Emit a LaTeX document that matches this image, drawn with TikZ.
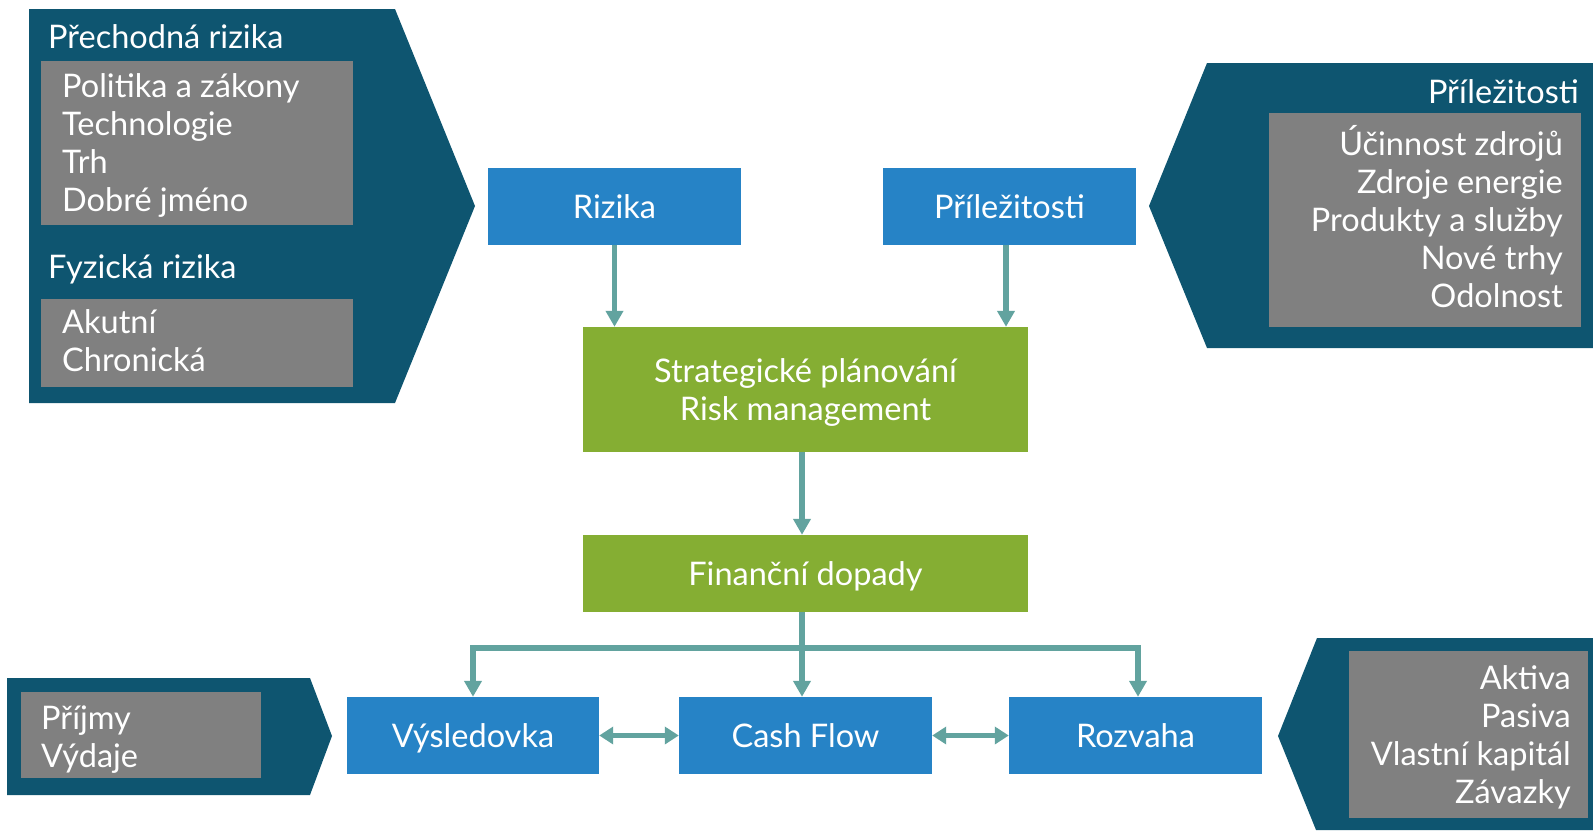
\documentclass[tikz,border=0pt]{standalone}
\usepackage{fontspec}
\setmainfont{Lato}
\usetikzlibrary{arrows.meta}
\definecolor{navy}{HTML}{0E5570}
\definecolor{cblue}{HTML}{2683C6}
\definecolor{cgreen}{HTML}{85AE33}
\definecolor{cgray}{HTML}{808080}
\definecolor{arrowc}{HTML}{62A39F}
\begin{document}
\begin{tikzpicture}[x=1pt,y=-1pt,
  every node/.style={font=\fontsize{32.5}{37.8}\selectfont, text=white},
  box/.style={minimum height=77pt, inner sep=0pt, text height=24pt, text depth=0pt},
  bluebox/.style={box, fill=cblue, minimum width=253pt},
  greenbox/.style={box, fill=cgreen, minimum width=445pt},
  panel/.style={fill=navy},
  graybox/.style={fill=cgray, inner sep=0pt, anchor=north west},
  lbl/.style={inner sep=0pt, align=left, anchor=base west},
  rlbl/.style={inner sep=0pt, align=right, anchor=base east},
  conn/.style={draw=arrowc, line width=5.7pt, -{Triangle[width=17pt,length=16pt]}},
  dconn/.style={draw=arrowc, line width=4.5pt, {Triangle[width=17pt,length=14pt]}-{Triangle[width=17pt,length=14pt]}},
]
\useasboundingbox (0,0) rectangle (1593,830);
% panels
\fill[panel] (29,9) -- (395,9) -- (475,206) -- (395,403) -- (29,403) -- cycle;
\fill[panel] (1207,63) -- (1593,63) -- (1593,348) -- (1207,348) -- (1149,206) -- cycle;
\fill[panel] (7,678) -- (310,678) -- (332,736) -- (310,795) -- (7,795) -- cycle;
\fill[panel] (1317,638) -- (1593,638) -- (1593,830) -- (1316,830) -- (1278,736) -- cycle;
% gray boxes
\node[graybox, minimum width=312pt, minimum height=164pt] (g1) at (41,61) {};
\node[graybox, minimum width=312pt, minimum height=88pt] (g2) at (41,299) {};
\node[graybox, minimum width=312pt, minimum height=214pt] (g3) at (1269,113) {};
\node[graybox, minimum width=240pt, minimum height=86pt] (g4) at (21,692) {};
\node[graybox, minimum width=239pt, minimum height=167pt] (g5) at (1349,651) {};
% titles
\node[lbl] (t1) at (48,48) {Přechodná rizika};
\node[lbl] (t2) at (48,278) {Fyzická rizika};
\node[rlbl] (t3) at (1579,103) {Příležitosti};
% lists (anchored at the baseline of the last line)
\node[lbl] (l1) at (62,211) {Politika a zákony\\Technologie\\Trh\\Dobré jméno};
\node[lbl] (l2) at (62,371) {Akutní\\Chronická};
\node[rlbl] (l3) at (1563,307) {Účinnost zdrojů\\Zdroje energie\\Produkty a služby\\Nové trhy\\Odolnost};
\node[lbl] (l4) at (41,767) {Příjmy\\Výdaje};
\node[rlbl] (l5) at (1571,803) {Aktiva\\Pasiva\\Vlastní kapitál\\Závazky};
% main boxes
\node[bluebox] (riz) at (614.5,206) {Rizika};
\node[bluebox] (pri) at (1009.5,206) {Příležitosti};
\node[greenbox, minimum height=125pt, align=center, text height=61pt] (str) at (805.5,389.5) {Strategické plánování\\Risk management};
\node[greenbox] (fin) at (805.5,573.5) {Finanční dopady};
\node[bluebox, minimum width=252pt] (vys) at (473,735.5) {Výsledovka};
\node[bluebox] (cas) at (805.5,735.5) {Cash Flow};
\node[bluebox] (roz) at (1135.5,735.5) {Rozvaha};
\coordinate (split) at (802,648);
% connectors
\draw[conn] (riz.south) -- (riz.south |- str.north);
\draw[conn] ([xshift=-3.5pt]pri.south) -- ([xshift=-3.5pt]pri.south |- str.north);
\draw[conn] ([xshift=-3.5pt]str.south) -- ([xshift=-3.5pt]fin.north);
\draw[conn] ([xshift=-3.5pt]fin.south) -- ([xshift=-3.5pt]cas.north);
\draw[conn, {Triangle[width=17pt,length=16pt]}-{Triangle[width=17pt,length=16pt]}] (vys.north) -- (vys.north |- split) -- ([xshift=2.5pt]roz.north |- split) -- ([xshift=2.5pt]roz.north);
\draw[dconn] (vys.east) -- (cas.west);
\draw[dconn] (cas.east) -- (roz.west);
\end{tikzpicture}
\end{document}
